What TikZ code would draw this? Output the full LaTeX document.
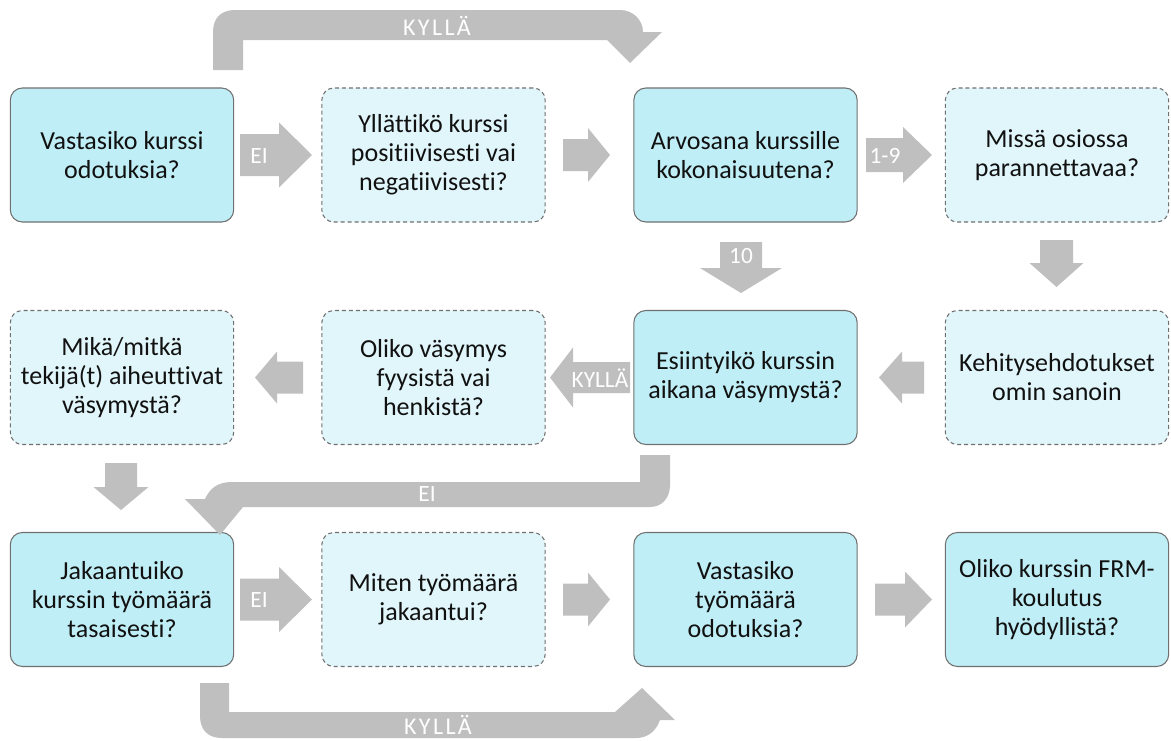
\documentclass[tikz,border=0pt]{standalone}
\usepackage{fontspec}
\setmainfont{Carlito}[Ligatures={NoCommon,TeX}]
\usetikzlibrary{calc}
\definecolor{solidfill}{HTML}{C0EEF6}
\definecolor{lightfill}{HTML}{E1F6FB}
\definecolor{boxline}{HTML}{707070}
\definecolor{arrgray}{HTML}{BFBFBF}
\definecolor{txt}{HTML}{111111}
\newcommand\nl{\kern0pt }
\newcommand\blkR[6]{\fill[arrgray] ({#1},{#4-#5}) -- ({#2},{#4-#5}) -- ({#2},{#4-#6}) -- ({#3},{#4}) -- ({#2},{#4+#6}) -- ({#2},{#4+#5}) -- ({#1},{#4+#5}) -- cycle;}
\newcommand\blkD[6]{\fill[arrgray] ({#4-#5},{#1}) -- ({#4-#5},{#2}) -- ({#4-#6},{#2}) -- ({#4},{#3}) -- ({#4+#6},{#2}) -- ({#4+#5},{#2}) -- ({#4+#5},{#1}) -- cycle;}
\tikzset{
  qbox/.style={rectangle, rounded corners=9pt, minimum width=167.5pt, minimum height=100.5pt,
    align=center, text=txt, font=\fontsize{19.5}{21.8}\selectfont, line width=0.8pt},
  solidbox/.style={qbox, draw=boxline, fill=solidfill},
  dashbox/.style={qbox, draw=boxline, fill=lightfill, dash pattern=on 3pt off 2.2pt},
  alabel/.style={text=white, font=\fontsize{17.5}{17.5}\selectfont, inner sep=0pt},
  blabel/.style={text=white, font=\fontsize{18}{18}\selectfont\addfontfeature{LetterSpace=10}, inner sep=0pt}
}
\begin{document}
\begin{tikzpicture}[x=0.75pt,y=-0.75pt]
\useasboundingbox (0,0) rectangle (1171,740);
% boxes
\node[solidbox] (b1) at (122,155) {Vastasiko kurssi\\odotuksia?};
\node[dashbox]  (b2) at (433.5,155) {Yllättikö kurssi\\posit\nl iivisest\nl i vai\\negat\nl iivisest\nl i?};
\node[solidbox] (b3) at (745.5,155) {Arvosana kurssille\\kokonaisuutena?};
\node[dashbox]  (b4) at (1057,155) {Missä osiossa\\parannettavaa?};
\node[dashbox]  (b5) at (122,377.5) {Mikä/mitkä\\tekijä(t) aiheutt\nl ivat\\väsymystä?};
\node[dashbox]  (b6) at (433.5,377.5) {Oliko väsymys\\fyysistä vai\\henkistä?};
\node[solidbox] (b7) at (745.5,377.5) {Esiintyikö kurssin\\aikana väsymystä?};
\node[dashbox]  (b8) at (1057,377.5) {Kehitysehdotukset\\omin sanoin};
\node[solidbox] (b9) at (122,599.5) {Jakaantuiko\\kurssin työmäärä\\tasaisesti?};
\node[dashbox]  (b10) at (433.5,599.5) {Miten työmäärä\\jakaantui?};
\node[solidbox] (b11) at (745.5,599.5) {Vastasiko\\työmäärä\\odotuksia?};
\node[solidbox] (b12) at (1057,599.5) {Oliko kurssin FRM-\\koulutus\\hyödyllistä?};
% straight block arrows row 1
\blkR{240}{279}{312}{155}{21}{32.5}
\node[alabel] (l1) at (259,156) {EI};
\blkR{563}{588}{610}{155}{16}{27}
\blkR{866}{903}{932}{155}{17}{28}
\node[alabel] (l2) at (885,156) {1-9};
% down arrows
\blkD{242}{268}{293}{741}{21}{41}
\node[alabel] (l3) at (741,256) {10};
\blkD{240}{263}{287}{1056.5}{16.5}{27}
\blkD{463}{487}{510}{121}{16}{27.5}
% row 2 left arrows
\blkR{924}{902}{879}{377.5}{16}{26}
\blkR{630}{573}{550}{377.5}{15.5}{30}
\node[alabel] (l4) at (600,378.5) {KYLLÄ};
\blkR{303}{277}{255}{377.5}{16}{26}
% row 3
\blkR{240}{279}{312}{599.5}{21}{32.5}
\node[alabel] (l5) at (259,600.5) {EI};
\blkR{563}{588}{610}{599.5}{16}{27}
\blkR{875}{905}{932}{599.5}{16}{28}
% bent arrows
\fill[arrgray] (213,70) -- (213,32) .. controls (213,18) and (221,10) .. (235,10) -- (620,10)
  .. controls (633,10) and (643,20) .. (643,32) -- (662,32) -- (630,63) -- (607,40) -- (243,40) -- (243,70) -- cycle;
\node[blabel] (l6) at (437,26) {KYLLÄ};
\fill[arrgray] (640,455) -- (670,455) -- (670,485) .. controls (670,498) and (662,507) .. (650,507)
  -- (243,507) -- (220,535) -- (185,499) -- (205,499) .. controls (210,488) and (218,482) .. (232,482) -- (640,482) -- cycle;
\node[alabel] (l7) at (427,494) {EI};
\fill[arrgray] (200,683) -- (229,683) -- (229,712) -- (615,712) -- (642,688) -- (675,720) -- (660,720)
  .. controls (656,731) and (648,738) .. (636,738) -- (222,738) .. controls (208,738) and (200,730) .. (200,716) -- cycle;
\node[blabel] (l8) at (438,725) {KYLLÄ};
\end{tikzpicture}
\end{document}
